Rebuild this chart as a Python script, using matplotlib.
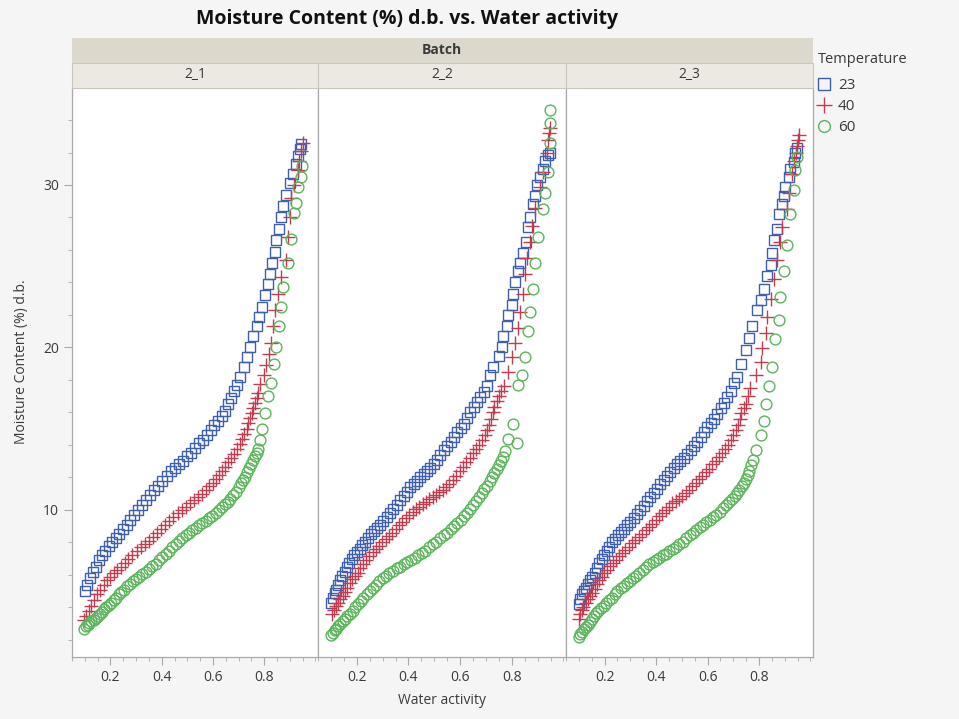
import matplotlib
matplotlib.use('Agg')
from matplotlib import pyplot as plt
from matplotlib.lines import Line2D
from matplotlib.patches import Rectangle
from matplotlib.ticker import MultipleLocator

plt.rcParams['font.family'] = ['Open Sans', 'DejaVu Sans']

batches = ['2_1', '2_2', '2_3']
temps = ['23', '40', '60']
colors = {'23': '#3d5fae', '40': '#c23b4e', '60': '#5ab55a'}
markers = {'23': 's', '40': '+', '60': 'o'}

# (water activity, moisture content % d.b.)
b21_t23 = [(0.100, 5.0), (0.110, 5.4), (0.121, 5.8), (0.132, 6.2), (0.143, 6.5), (0.155, 6.9),
           (0.167, 7.2), (0.180, 7.5), (0.193, 7.8), (0.206, 8.0), (0.220, 8.3), (0.234, 8.5),
           (0.248, 8.8), (0.263, 9.1), (0.278, 9.4), (0.293, 9.7), (0.308, 10.0), (0.323, 10.3),
           (0.339, 10.6), (0.355, 10.9), (0.371, 11.2), (0.387, 11.5), (0.403, 11.8), (0.419, 12.1),
           (0.435, 12.4), (0.451, 12.6), (0.467, 12.8), (0.483, 13.0), (0.499, 13.3), (0.515, 13.5),
           (0.531, 13.8), (0.547, 14.1), (0.562, 14.3), (0.577, 14.6), (0.592, 14.9), (0.606, 15.2),
           (0.620, 15.5), (0.634, 15.8), (0.647, 16.1), (0.660, 16.5), (0.672, 16.9), (0.684, 17.3),
           (0.695, 17.7), (0.707, 18.2), (0.720, 18.8), (0.732, 19.4), (0.745, 20.0), (0.758, 20.7),
           (0.770, 21.3), (0.780, 21.9), (0.790, 22.5), (0.803, 23.2), (0.813, 23.9), (0.822, 24.5),
           (0.831, 25.2), (0.841, 25.9), (0.848, 26.6), (0.856, 27.3), (0.864, 28.0), (0.873, 28.7),
           (0.886, 29.4), (0.899, 30.1), (0.912, 30.7), (0.924, 31.3), (0.933, 31.8), (0.940, 32.2),
           (0.945, 32.5)]
b21_t40 = [(0.097, 3.2), (0.106, 3.5), (0.116, 3.8), (0.126, 4.1), (0.136, 4.45), (0.148, 4.8),
           (0.160, 5.1), (0.173, 5.4), (0.187, 5.7), (0.200, 5.9), (0.213, 6.1), (0.226, 6.3),
           (0.240, 6.5), (0.255, 6.75), (0.270, 7.0), (0.286, 7.25), (0.302, 7.5), (0.318, 7.7),
           (0.334, 7.9), (0.350, 8.1), (0.366, 8.35), (0.382, 8.6), (0.398, 8.85), (0.414, 9.1),
           (0.430, 9.35), (0.446, 9.55), (0.462, 9.8), (0.478, 10.0), (0.494, 10.2), (0.510, 10.4),
           (0.526, 10.6), (0.542, 10.8), (0.558, 11.0), (0.572, 11.2), (0.586, 11.45), (0.599, 11.65),
           (0.612, 11.9), (0.624, 12.15), (0.636, 12.4), (0.648, 12.65), (0.660, 12.95), (0.672, 13.2),
           (0.684, 13.45), (0.695, 13.75), (0.705, 14.05), (0.714, 14.35), (0.723, 14.7), (0.731, 15.0),
           (0.738, 15.35), (0.745, 15.65), (0.751, 15.95), (0.758, 16.3), (0.764, 16.6), (0.771, 16.9),
           (0.777, 17.2), (0.784, 17.75), (0.800, 18.3), (0.809, 18.9), (0.820, 19.6), (0.828, 20.25),
           (0.835, 21.3), (0.842, 22.3), (0.854, 23.3), (0.867, 24.35), (0.884, 25.4), (0.892, 26.8),
           (0.899, 28.0), (0.906, 29.2), (0.917, 30.0), (0.930, 30.9), (0.937, 31.5), (0.944, 32.1),
           (0.950, 32.6)]
b21_t60 = [(0.097, 2.7), (0.104, 2.85), (0.111, 2.95), (0.118, 3.05), (0.126, 3.15), (0.134, 3.25),
           (0.142, 3.35), (0.150, 3.45), (0.158, 3.6), (0.166, 3.75), (0.175, 3.9), (0.184, 4.0),
           (0.193, 4.15), (0.202, 4.3), (0.212, 4.45), (0.222, 4.6), (0.232, 4.8), (0.243, 4.95),
           (0.254, 5.1), (0.265, 5.3), (0.276, 5.45), (0.288, 5.6), (0.300, 5.75), (0.312, 5.9),
           (0.324, 6.05), (0.337, 6.2), (0.350, 6.35), (0.363, 6.55), (0.376, 6.7), (0.389, 6.9),
           (0.402, 7.1), (0.415, 7.3), (0.428, 7.5), (0.441, 7.7), (0.454, 7.9), (0.467, 8.1),
           (0.480, 8.3), (0.493, 8.45), (0.506, 8.6), (0.519, 8.75), (0.532, 8.9), (0.545, 9.05),
           (0.558, 9.2), (0.571, 9.35), (0.584, 9.5), (0.597, 9.65), (0.610, 9.8), (0.622, 10.0),
           (0.634, 10.2), (0.646, 10.35), (0.657, 10.5), (0.668, 10.7), (0.679, 10.9), (0.690, 11.1),
           (0.700, 11.4), (0.709, 11.65), (0.718, 11.85), (0.726, 12.05), (0.734, 12.35), (0.741, 12.6),
           (0.748, 12.85), (0.756, 13.05), (0.764, 13.3), (0.771, 13.5), (0.777, 13.75), (0.782, 14.3),
           (0.790, 15.0), (0.803, 15.95), (0.815, 17.0), (0.828, 17.8), (0.840, 19.0), (0.847, 20.05),
           (0.859, 21.3), (0.866, 22.5), (0.873, 23.7), (0.891, 25.2), (0.904, 26.7), (0.917, 28.25),
           (0.924, 28.9), (0.931, 29.9), (0.942, 30.5), (0.948, 31.2)]

b22_t23 = [(0.101, 4.3), (0.107, 4.6), (0.114, 4.9), (0.121, 5.1), (0.128, 5.4), (0.136, 5.7),
           (0.144, 5.95), (0.153, 6.2), (0.162, 6.5), (0.171, 6.75), (0.180, 7.0), (0.190, 7.2),
           (0.200, 7.4), (0.211, 7.6), (0.222, 7.85), (0.233, 8.05), (0.244, 8.3), (0.255, 8.5),
           (0.267, 8.7), (0.279, 8.9), (0.291, 9.1), (0.303, 9.3), (0.316, 9.55), (0.329, 9.8),
           (0.342, 10.05), (0.355, 10.3), (0.368, 10.6), (0.381, 10.85), (0.394, 11.1), (0.407, 11.4),
           (0.420, 11.6), (0.433, 11.8), (0.446, 12.0), (0.459, 12.2), (0.472, 12.4), (0.485, 12.6),
           (0.498, 12.85), (0.511, 13.1), (0.524, 13.4), (0.537, 13.7), (0.550, 13.95), (0.563, 14.2),
           (0.576, 14.5), (0.589, 14.8), (0.602, 15.05), (0.614, 15.3), (0.627, 15.65), (0.640, 16.0),
           (0.653, 16.35), (0.665, 16.65), (0.678, 16.95), (0.691, 17.25), (0.704, 17.6), (0.717, 18.3),
           (0.729, 18.8), (0.749, 19.5), (0.762, 20.05), (0.768, 20.7), (0.781, 21.3), (0.787, 22.0),
           (0.800, 22.6), (0.806, 23.3), (0.813, 24.05), (0.826, 24.7), (0.832, 25.2), (0.845, 25.8),
           (0.855, 26.5), (0.864, 27.4), (0.871, 28.05), (0.883, 28.8), (0.890, 29.3), (0.896, 30.0),
           (0.909, 30.5), (0.922, 31.0), (0.928, 31.5), (0.941, 31.85), (0.947, 31.95)]
b22_t40 = [(0.105, 3.6), (0.112, 3.85), (0.120, 4.1), (0.128, 4.3), (0.136, 4.5), (0.145, 4.7),
           (0.154, 4.95), (0.163, 5.2), (0.172, 5.5), (0.182, 5.75), (0.192, 5.95), (0.203, 6.15),
           (0.214, 6.4), (0.225, 6.65), (0.237, 6.9), (0.249, 7.15), (0.261, 7.4), (0.273, 7.6),
           (0.286, 7.8), (0.299, 8.0), (0.312, 8.2), (0.325, 8.4), (0.338, 8.6), (0.351, 8.85),
           (0.364, 9.05), (0.377, 9.25), (0.390, 9.5), (0.403, 9.7), (0.416, 9.9), (0.429, 10.05),
           (0.442, 10.2), (0.455, 10.35), (0.468, 10.5), (0.481, 10.65), (0.494, 10.8), (0.507, 10.95),
           (0.520, 11.1), (0.533, 11.25), (0.546, 11.4), (0.559, 11.6), (0.572, 11.85), (0.585, 12.1),
           (0.598, 12.4), (0.611, 12.65), (0.624, 12.95), (0.637, 13.2), (0.650, 13.5), (0.662, 13.75),
           (0.674, 14.0), (0.685, 14.3), (0.695, 14.6), (0.704, 14.9), (0.712, 15.2), (0.719, 15.6),
           (0.726, 16.0), (0.733, 16.35), (0.742, 16.7), (0.751, 17.0), (0.760, 17.3), (0.769, 17.6),
           (0.787, 18.5), (0.800, 19.4), (0.813, 20.3), (0.826, 21.2), (0.832, 22.2), (0.845, 23.3),
           (0.851, 24.5), (0.858, 25.5), (0.871, 26.5), (0.877, 27.5), (0.890, 28.6), (0.909, 29.9),
           (0.922, 30.8), (0.935, 31.95), (0.941, 32.8), (0.946, 33.2), (0.949, 33.5)]
b22_t60 = [(0.100, 2.3), (0.107, 2.45), (0.114, 2.6), (0.121, 2.7), (0.129, 2.85), (0.137, 3.0),
           (0.146, 3.15), (0.155, 3.3), (0.164, 3.45), (0.174, 3.6), (0.184, 3.8), (0.194, 4.0),
           (0.204, 4.2), (0.215, 4.4), (0.226, 4.6), (0.238, 4.8), (0.250, 5.0), (0.262, 5.2),
           (0.274, 5.4), (0.287, 5.6), (0.300, 5.8), (0.313, 5.95), (0.326, 6.1), (0.340, 6.25),
           (0.354, 6.4), (0.368, 6.5), (0.382, 6.65), (0.396, 6.8), (0.410, 6.9), (0.424, 7.05),
           (0.438, 7.2), (0.452, 7.35), (0.466, 7.5), (0.480, 7.7), (0.494, 7.9), (0.508, 8.05),
           (0.522, 8.25), (0.536, 8.45), (0.550, 8.6), (0.563, 8.8), (0.576, 9.0), (0.589, 9.2),
           (0.602, 9.4), (0.614, 9.6), (0.626, 9.8), (0.638, 10.05), (0.650, 10.3), (0.661, 10.55),
           (0.672, 10.8), (0.683, 11.05), (0.694, 11.3), (0.704, 11.5), (0.714, 11.8), (0.723, 12.05),
           (0.733, 12.3), (0.742, 12.5), (0.750, 12.75), (0.758, 13.0), (0.766, 13.25), (0.774, 13.6),
           (0.787, 14.35), (0.819, 14.1), (0.806, 15.3), (0.826, 17.7), (0.838, 18.3), (0.851, 19.4),
           (0.864, 21.0), (0.871, 22.2), (0.883, 23.6), (0.890, 25.2), (0.903, 26.8), (0.922, 28.5),
           (0.928, 29.5), (0.941, 30.8), (0.947, 32.6), (0.947, 33.8), (0.949, 34.6)]

b23_t23 = [(0.100, 4.2), (0.106, 4.5), (0.113, 4.8), (0.120, 5.0), (0.127, 5.2), (0.135, 5.45),
           (0.143, 5.7), (0.152, 5.9), (0.161, 6.15), (0.170, 6.45), (0.179, 6.75), (0.189, 7.0),
           (0.199, 7.25), (0.209, 7.5), (0.219, 7.75), (0.230, 8.0), (0.241, 8.2), (0.252, 8.45),
           (0.264, 8.65), (0.276, 8.85), (0.288, 9.05), (0.300, 9.25), (0.313, 9.5), (0.326, 9.75),
           (0.339, 10.0), (0.352, 10.25), (0.365, 10.55), (0.378, 10.8), (0.391, 11.05), (0.404, 11.3),
           (0.417, 11.6), (0.430, 11.85), (0.443, 12.1), (0.456, 12.35), (0.469, 12.6), (0.482, 12.8),
           (0.495, 13.0), (0.508, 13.2), (0.521, 13.45), (0.534, 13.7), (0.547, 13.95), (0.560, 14.2),
           (0.573, 14.5), (0.586, 14.8), (0.599, 15.1), (0.612, 15.35), (0.625, 15.6), (0.638, 15.9),
           (0.651, 16.25), (0.664, 16.6), (0.677, 16.95), (0.690, 17.35), (0.703, 17.8), (0.714, 18.2),
           (0.729, 19.0), (0.749, 19.85), (0.762, 20.6), (0.774, 21.3), (0.794, 22.3), (0.806, 22.9),
           (0.819, 23.6), (0.832, 24.4), (0.845, 25.1), (0.851, 25.8), (0.858, 26.6), (0.871, 27.3),
           (0.877, 28.2), (0.890, 28.8), (0.896, 29.3), (0.903, 29.9), (0.915, 30.5), (0.922, 31.0),
           (0.935, 31.4), (0.941, 31.95), (0.947, 32.3)]
b23_t40 = [(0.100, 3.3), (0.105, 3.6), (0.111, 3.85), (0.118, 4.05), (0.126, 4.3), (0.134, 4.5),
           (0.143, 4.7), (0.152, 4.9), (0.161, 5.15), (0.170, 5.45), (0.179, 5.7), (0.189, 5.9),
           (0.199, 6.1), (0.210, 6.3), (0.221, 6.55), (0.232, 6.75), (0.244, 6.95), (0.256, 7.15),
           (0.268, 7.35), (0.281, 7.55), (0.294, 7.75), (0.307, 7.95), (0.320, 8.15), (0.333, 8.35),
           (0.346, 8.55), (0.359, 8.75), (0.372, 8.95), (0.385, 9.15), (0.398, 9.4), (0.411, 9.6),
           (0.424, 9.8), (0.437, 10.0), (0.450, 10.2), (0.463, 10.4), (0.476, 10.55), (0.489, 10.7),
           (0.502, 10.85), (0.515, 11.05), (0.528, 11.25), (0.541, 11.45), (0.554, 11.65), (0.567, 11.9),
           (0.580, 12.1), (0.593, 12.35), (0.606, 12.55), (0.619, 12.8), (0.632, 13.0), (0.644, 13.25),
           (0.656, 13.5), (0.668, 13.75), (0.680, 14.0), (0.691, 14.3), (0.701, 14.6), (0.710, 14.9),
           (0.718, 15.2), (0.725, 15.6), (0.731, 15.95), (0.740, 16.25), (0.749, 16.55), (0.758, 17.0),
           (0.767, 17.5), (0.787, 18.3), (0.806, 19.1), (0.813, 19.95), (0.826, 20.9), (0.832, 21.9),
           (0.845, 23.0), (0.858, 24.2), (0.871, 25.4), (0.883, 26.5), (0.890, 27.4), (0.909, 28.5),
           (0.915, 29.5), (0.928, 30.7), (0.935, 31.5), (0.944, 32.0), (0.947, 32.4), (0.951, 32.8),
           (0.954, 33.1)]
b23_t60 = [(0.100, 2.2), (0.106, 2.35), (0.112, 2.5), (0.119, 2.65), (0.126, 2.8), (0.134, 2.95),
           (0.142, 3.1), (0.150, 3.3), (0.158, 3.45), (0.167, 3.65), (0.176, 3.8), (0.186, 3.95),
           (0.196, 4.1), (0.206, 4.25), (0.217, 4.45), (0.228, 4.6), (0.239, 4.8), (0.250, 5.0),
           (0.262, 5.2), (0.274, 5.35), (0.286, 5.5), (0.298, 5.65), (0.310, 5.8), (0.322, 5.95),
           (0.335, 6.1), (0.348, 6.3), (0.361, 6.5), (0.374, 6.65), (0.387, 6.8), (0.400, 6.95),
           (0.413, 7.05), (0.426, 7.2), (0.439, 7.3), (0.452, 7.45), (0.465, 7.6), (0.478, 7.75),
           (0.491, 7.9), (0.504, 8.05), (0.517, 8.25), (0.530, 8.45), (0.543, 8.6), (0.556, 8.75),
           (0.569, 8.95), (0.582, 9.1), (0.595, 9.25), (0.608, 9.4), (0.621, 9.55), (0.634, 9.7),
           (0.647, 9.9), (0.660, 10.1), (0.672, 10.3), (0.684, 10.5), (0.695, 10.7), (0.705, 10.85),
           (0.715, 11.05), (0.724, 11.25), (0.733, 11.45), (0.741, 11.65), (0.749, 11.9), (0.756, 12.15),
           (0.763, 12.4), (0.770, 12.75), (0.776, 13.1), (0.787, 13.7), (0.806, 14.6), (0.819, 15.5),
           (0.826, 16.55), (0.838, 17.6), (0.851, 18.8), (0.864, 20.5), (0.877, 21.7), (0.883, 23.1),
           (0.896, 24.7), (0.909, 26.3), (0.922, 28.2), (0.935, 29.7), (0.941, 30.9), (0.947, 31.75)]

data = {
    '2_1': {'23': b21_t23, '40': b21_t40, '60': b21_t60},
    '2_2': {'23': b22_t23, '40': b22_t40, '60': b22_t60},
    '2_3': {'23': b23_t23, '40': b23_t40, '60': b23_t60},
}

W, H = 959, 719


def fx(px):
    return px / W


def fy(py):
    return 1 - py / H


fig = plt.figure(figsize=(W / 100, H / 100), dpi=100, facecolor='#f5f5f5')

edges = [72, 318, 566, 813]
top, bottom = 88, 657
spine_c = '#a9a9a9'
text_c = '#3a3a3a'

for i, b in enumerate(batches):
    ax = fig.add_axes([fx(edges[i]), fy(bottom), fx(edges[i + 1]) - fx(edges[i]), (bottom - top) / H])
    ax.set_facecolor('white')
    for t in temps:
        pts = data[b][t]
        x = [p[0] for p in pts]
        y = [p[1] for p in pts]
        if t == '40':
            ax.plot(x, y, ls='none', marker='+', ms=10, mew=1.0, color=colors[t])
        else:
            ax.plot(x, y, ls='none', marker=markers[t], ms=7.8, mew=1.0,
                    mfc='none', mec=colors[t])
    ax.set_xlim(0.05, 1.01)
    ax.set_ylim(0.95, 35.97)
    ax.set_xticks([0.2, 0.4, 0.6, 0.8])
    ax.xaxis.set_minor_locator(MultipleLocator(0.05))
    ax.set_yticks([10, 20, 30])
    ax.yaxis.set_minor_locator(MultipleLocator(2))
    for s in ax.spines.values():
        s.set_color(spine_c)
        s.set_linewidth(0.9)
    ax.spines['top'].set_visible(False)
    ax.tick_params(which='both', direction='out', color=spine_c, labelcolor=text_c,
                   labelsize=10)
    ax.tick_params(which='major', length=6)
    ax.tick_params(which='minor', length=3)
    if i > 0:
        ax.tick_params(axis='y', which='both', left=False, labelleft=False)

# header bands
fig.add_artist(Rectangle((fx(72), fy(63)), fx(813) - fx(72), (63 - 38) / H,
                         transform=fig.transFigure, facecolor='#dcd9cc', edgecolor='none'))
for i, b in enumerate(batches):
    fig.add_artist(Rectangle((fx(edges[i]), fy(88)), fx(edges[i + 1]) - fx(edges[i]), 25 / H,
                             transform=fig.transFigure, facecolor='#ebe9e1',
                             edgecolor='#c9c7bd', lw=0.8))
    fig.text(fx((edges[i] + edges[i + 1]) / 2), fy(75), b, ha='center', va='center',
             fontsize=10, color=text_c)

fig.text(fx(442), fy(50), 'Batch', ha='center', va='center', fontsize=10,
         fontweight='bold', color=text_c)
fig.text(fx(407), fy(19), 'Moisture Content (%) d.b. vs. Water activity', ha='center',
         va='center', fontsize=14, fontweight='bold', color='#111111')
fig.text(fx(22), fy(362), 'Moisture Content (%) d.b.', rotation=90, ha='center',
         va='center', fontsize=10, color=text_c)
fig.text(fx(442), fy(700), 'Water activity', ha='center', va='center', fontsize=10,
         color=text_c)

handles = []
for t in temps:
    if t == '40':
        handles.append(Line2D([], [], ls='none', marker='+', ms=11, mew=1.0, color=colors[t]))
    else:
        handles.append(Line2D([], [], ls='none', marker=markers[t], ms=8.5, mew=1.0,
                              mfc='none', mec=colors[t]))
leg = fig.legend(handles, temps, title='Temperature', loc='upper left',
                 bbox_to_anchor=(fx(818), fy(52)), frameon=False, fontsize=11,
                 title_fontsize=10.5, handlelength=0.8, handletextpad=0.5,
                 labelspacing=0.4, alignment='left', borderpad=0, borderaxespad=0)
leg._legend_box.sep = 8
for txt in leg.get_texts():
    txt.set_color(text_c)
leg.get_title().set_color(text_c)

fig.savefig('out.png', dpi=100, facecolor=fig.get_facecolor())
